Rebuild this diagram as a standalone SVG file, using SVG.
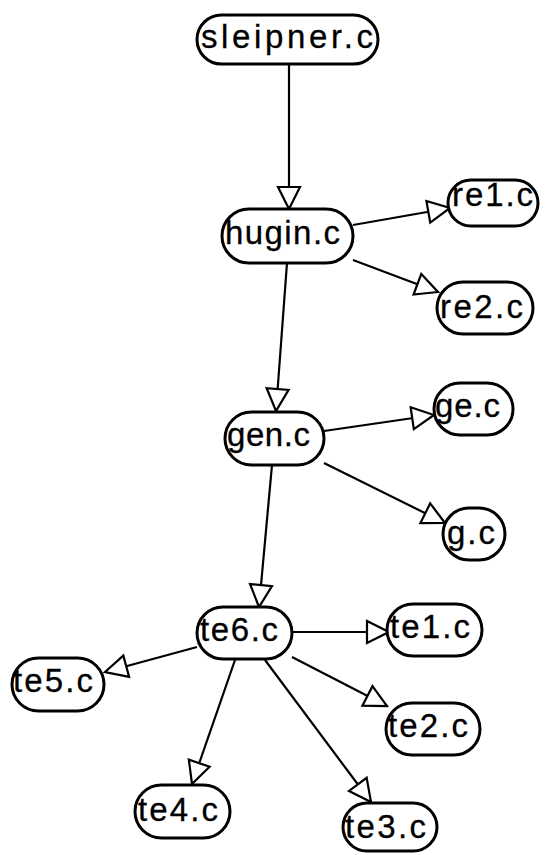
<svg xmlns="http://www.w3.org/2000/svg" width="547" height="855" viewBox="0 0 547 855">
<style>
.n rect{fill:#fff;stroke:#000;stroke-width:3}
.n text{font-family:"Liberation Sans",Arial,sans-serif;font-size:33px;fill:#000;stroke:#000;stroke-width:0.3}
.e line{stroke:#000;stroke-width:2.2;marker-end:url(#ah)}
</style>
<defs>
<marker id="ah" viewBox="-2 -2 26 26" refX="22" refY="11" markerWidth="26" markerHeight="26" orient="auto" markerUnits="userSpaceOnUse">
<path d="M0,0 L22,11 L0,22 Z" fill="#fff" stroke="#000" stroke-width="2.2" stroke-linejoin="miter"/>
</marker>
</defs>
<rect width="547" height="855" fill="#fff"/>
<g id="connectors" class="e">
<line x1="289" y1="64" x2="289" y2="209"/>
<line x1="353" y1="225" x2="450" y2="208"/>
<line x1="353" y1="260" x2="438" y2="292"/>
<line x1="287" y1="263" x2="276" y2="411"/>
<line x1="324" y1="431" x2="434" y2="415"/>
<line x1="324" y1="463" x2="445" y2="523"/>
<line x1="272" y1="465" x2="259" y2="607"/>
<line x1="292" y1="632" x2="389" y2="632"/>
<line x1="197" y1="647" x2="105" y2="672"/>
<line x1="292" y1="657" x2="387" y2="706"/>
<line x1="235" y1="660" x2="192" y2="784"/>
<line x1="265" y1="660" x2="371" y2="802"/>
</g>
<g id="sleipner" class="n"><rect x="197" y="15" width="181" height="49" rx="24.5"/><text x="201" y="48" textLength="172" lengthAdjust="spacing">sleipner.c</text></g>
<g id="hugin" class="n"><rect x="222" y="209" width="131" height="54" rx="27"/><text x="225" y="244" textLength="115" lengthAdjust="spacing">hugin.c</text></g>
<g id="re1" class="n"><rect x="448" y="180" width="90" height="46" rx="23"/><text x="452" y="206" textLength="81" lengthAdjust="spacing">re1.c</text></g>
<g id="re2" class="n"><rect x="437" y="282" width="96" height="52" rx="26"/><text x="440" y="318" textLength="83" lengthAdjust="spacing">re2.c</text></g>
<g id="gen" class="n"><rect x="225" y="412" width="99" height="53" rx="26.5"/><text x="227" y="446" textLength="83" lengthAdjust="spacing">gen.c</text></g>
<g id="ge" class="n"><rect x="434" y="383" width="79" height="52" rx="26"/><text x="435" y="417" textLength="65" lengthAdjust="spacing">ge.c</text></g>
<g id="g" class="n"><rect x="443" y="508" width="62" height="52" rx="26"/><text x="447" y="544" textLength="48" lengthAdjust="spacing">g.c</text></g>
<g id="te6" class="n"><rect x="197" y="607" width="95" height="52" rx="26"/><text x="200" y="641" textLength="78" lengthAdjust="spacing">te6.c</text></g>
<g id="te1" class="n"><rect x="387" y="604" width="95" height="52" rx="26"/><text x="390" y="638" textLength="80" lengthAdjust="spacing">te1.c</text></g>
<g id="te5" class="n"><rect x="12" y="658" width="92" height="53" rx="26.5"/><text x="13" y="692" textLength="80" lengthAdjust="spacing">te5.c</text></g>
<g id="te2" class="n"><rect x="386" y="703" width="94" height="52" rx="26"/><text x="388" y="737" textLength="80" lengthAdjust="spacing">te2.c</text></g>
<g id="te4" class="n"><rect x="135" y="785" width="95" height="53" rx="26.5"/><text x="138" y="821" textLength="80" lengthAdjust="spacing">te4.c</text></g>
<g id="te3" class="n"><rect x="343" y="803" width="94" height="48" rx="24"/><text x="345" y="838" textLength="81" lengthAdjust="spacing">te3.c</text></g>
</svg>
